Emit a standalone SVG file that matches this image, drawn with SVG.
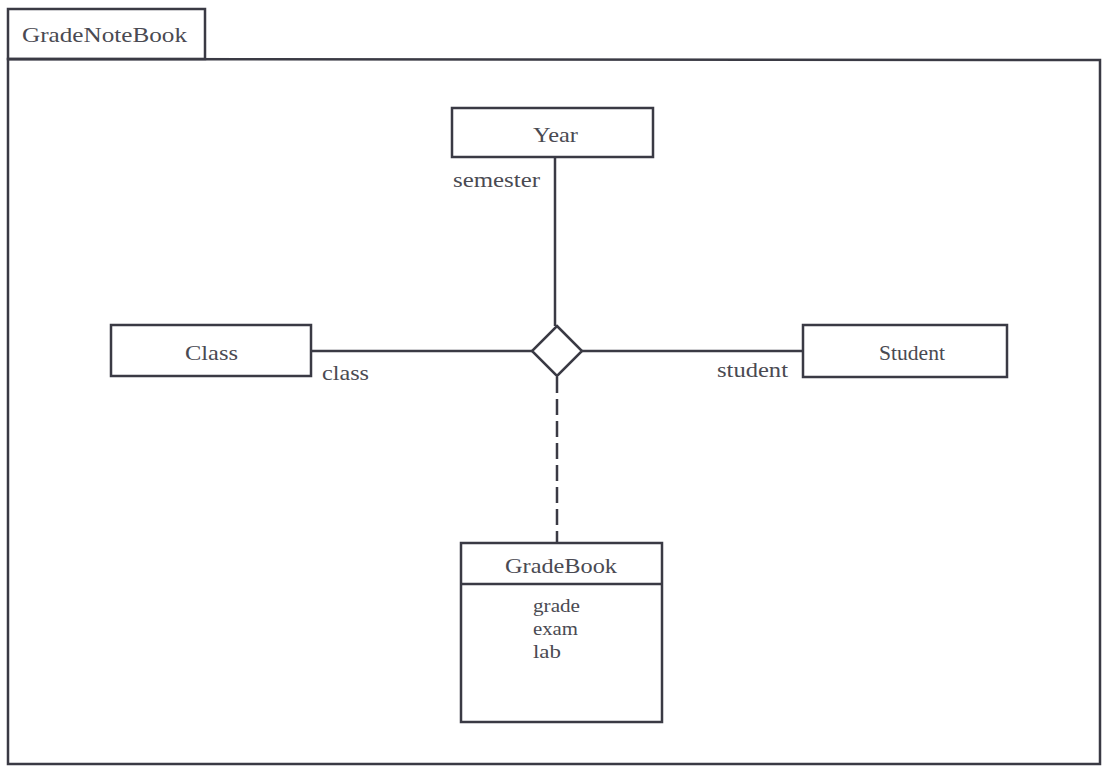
<svg xmlns="http://www.w3.org/2000/svg" width="1102" height="766" viewBox="0 0 1102 766">
<style>
.box{fill:#fff;stroke:#3a3a44;stroke-width:2.5}
.ln{fill:none;stroke:#3a3a44;stroke-width:2.5}
.t{font-family:'Liberation Serif','DejaVu Serif',serif;font-size:22px;fill:#4a4a52}
.a{font-size:19px}
</style>
<rect width="1102" height="766" fill="#fff"/>
<g id="package">
<rect class="box" x="8" y="9" width="197" height="50"/>
<path class="ln" d="M8,59 L1100,60 L1100,764 L8,764 Z"/>
<text class="t" x="22" y="42" textLength="165" lengthAdjust="spacingAndGlyphs">GradeNoteBook</text>
</g>
<g id="connectors">
<line class="ln" x1="555" y1="157" x2="555" y2="326"/>
<line class="ln" x1="311" y1="351" x2="532" y2="351"/>
<line class="ln" x1="582" y1="351" x2="803" y2="351"/>
<line class="ln" x1="557" y1="377" x2="557" y2="543" stroke-dasharray="16,6"/>
<text class="t" x="453" y="187" textLength="87" lengthAdjust="spacingAndGlyphs">semester</text>
<text class="t" x="322" y="380" textLength="47" lengthAdjust="spacingAndGlyphs">class</text>
<text class="t" x="717" y="377" textLength="71" lengthAdjust="spacingAndGlyphs">student</text>
</g>
<g id="assoc">
<polygon class="box" points="557,326 582,351 557,376 532,351"/>
</g>
<g id="year">
<rect class="box" x="452" y="108" width="201" height="49"/>
<text class="t" x="533" y="142" textLength="45" lengthAdjust="spacingAndGlyphs">Year</text>
</g>
<g id="class">
<rect class="box" x="111" y="325" width="200" height="51"/>
<text class="t" x="185" y="360" textLength="53" lengthAdjust="spacingAndGlyphs">Class</text>
</g>
<g id="student">
<rect class="box" x="803" y="325" width="204" height="52"/>
<text class="t" x="879" y="360" textLength="66" lengthAdjust="spacingAndGlyphs">Student</text>
</g>
<g id="gradebook">
<rect class="box" x="461" y="543" width="201" height="179"/>
<line class="ln" x1="461" y1="584" x2="662" y2="584"/>
<text class="t" x="505" y="573" textLength="112" lengthAdjust="spacingAndGlyphs">GradeBook</text>
<text class="t a" x="533" y="612" textLength="47" lengthAdjust="spacingAndGlyphs">grade</text>
<text class="t a" x="533" y="635" textLength="45" lengthAdjust="spacingAndGlyphs">exam</text>
<text class="t a" x="533" y="658" textLength="28" lengthAdjust="spacingAndGlyphs">lab</text>
</g>
</svg>
